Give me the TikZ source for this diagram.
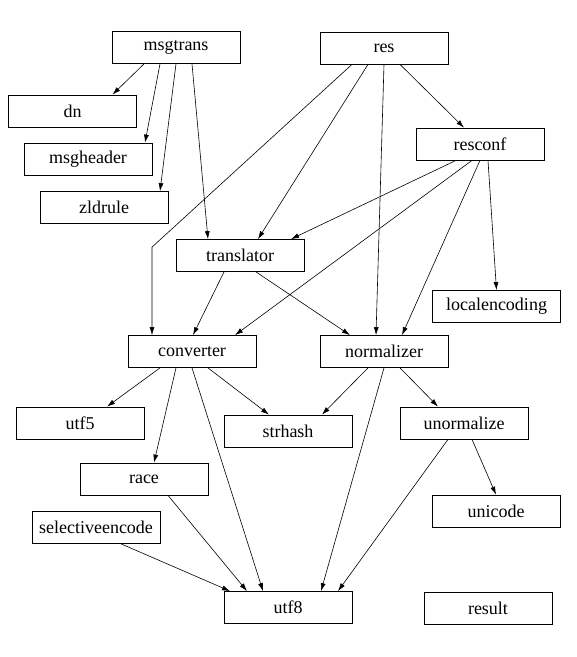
\documentclass[tikz,border=0pt]{standalone}
\usepackage{fontspec}
\setmainfont{Liberation Serif}
\usetikzlibrary{arrows.meta}
\tikzset{
  box/.style={draw, line width=0.8pt, rectangle, minimum width=128pt, minimum height=32pt, inner sep=0pt, font=\fontsize{18}{20}\selectfont},
  edge/.style={line width=0.6pt, -{Latex[length=8pt,width=5pt]}},
}
\begin{document}
\begin{tikzpicture}[x=1pt,y=-1pt]
\useasboundingbox (0,0) rectangle (577,657);
\node[box] (msgtrans) at (176,47.5) {msgtrans};
\node[box] (dn) at (72.5,111) {dn};
\node[box] (msgheader) at (88,159) {msgheader};
\node[box] (zldrule) at (104,207.5) {zldrule};
\node[box] (translator) at (240,255.5) {translator};
\node[box] (res) at (384,48) {res};
\node[box] (resconf) at (480,144) {resconf};
\node[box] (localencoding) at (496.5,306.5) {localencoding};
\node[box] (converter) at (192,351.5) {converter};
\node[box] (normalizer) at (384,351.5) {normalizer};
\node[box] (utf5) at (80,423) {utf5};
\node[box] (strhash) at (288,431) {strhash};
\node[box] (unormalize) at (464,423) {unormalize};
\node[box] (race) at (144,479) {race};
\node[box] (unicode) at (496,511) {unicode};
\node[box] (selectiveencode) at (96,527) {selectiveencode};
\node[box] (utf8) at (288,607.5) {utf8};
\node[box] (result) at (488,608) {result};
\coordinate (bend) at ([xshift=-40pt,yshift=88pt]converter.north);
% msgtrans
\draw[edge] ([xshift=-32pt]msgtrans.south) -- ([xshift=40pt]dn.north);
\draw[edge] ([xshift=-16pt]msgtrans.south) -- ([xshift=57pt]msgheader.north);
\draw[edge] (msgtrans.south) -- ([xshift=56pt]zldrule.north);
\draw[edge] ([xshift=16pt]msgtrans.south) -- ([xshift=-32pt]translator.north);
% res
\draw[edge] ([xshift=-32pt]res.south) -- (bend) -- ([xshift=-40pt]converter.north);
\draw[edge] ([xshift=-16pt]res.south) -- ([xshift=18pt]translator.north);
\draw[edge] (res.south) -- ([xshift=-8pt]normalizer.north);
\draw[edge] ([xshift=16pt]res.south) -- ([xshift=-16pt]resconf.north);
% resconf
\draw[edge] ([xshift=-24pt]resconf.south) -- ([xshift=51pt]translator.north);
\draw[edge] ([xshift=-8pt]resconf.south) -- ([xshift=43pt]converter.north);
\draw[edge] (resconf.south) -- ([xshift=18pt]normalizer.north);
\draw[edge] ([xshift=8pt]resconf.south) -- (localencoding.north);
% translator
\draw[edge] ([xshift=-16pt]translator.south) -- ([xshift=1pt]converter.north);
\draw[edge] ([xshift=16pt]translator.south) -- ([xshift=-34pt]normalizer.north);
% converter
\draw[edge] ([xshift=-32pt]converter.south) -- ([xshift=27pt]utf5.north);
\draw[edge] ([xshift=-16pt]converter.south) -- ([xshift=10pt]race.north);
\draw[edge] (converter.south) -- ([xshift=-25pt]utf8.north);
\draw[edge] ([xshift=16pt]converter.south) -- ([xshift=-19pt]strhash.north);
% normalizer
\draw[edge] ([xshift=-16pt]normalizer.south) -- ([xshift=34pt]strhash.north);
\draw[edge] (normalizer.south) -- ([xshift=33pt]utf8.north);
\draw[edge] ([xshift=16pt]normalizer.south) -- ([xshift=-26pt]unormalize.north);
% unormalize
\draw[edge] ([xshift=-16pt]unormalize.south) -- ([xshift=50pt]utf8.north);
\draw[edge] ([xshift=8pt]unormalize.south) -- (unicode.north);
% race, selectiveencode
\draw[edge] ([xshift=24pt]race.south) -- ([xshift=-41pt]utf8.north);
\draw[edge] ([xshift=24pt]selectiveencode.south) -- ([xshift=-58pt]utf8.north);
\end{tikzpicture}
\end{document}
